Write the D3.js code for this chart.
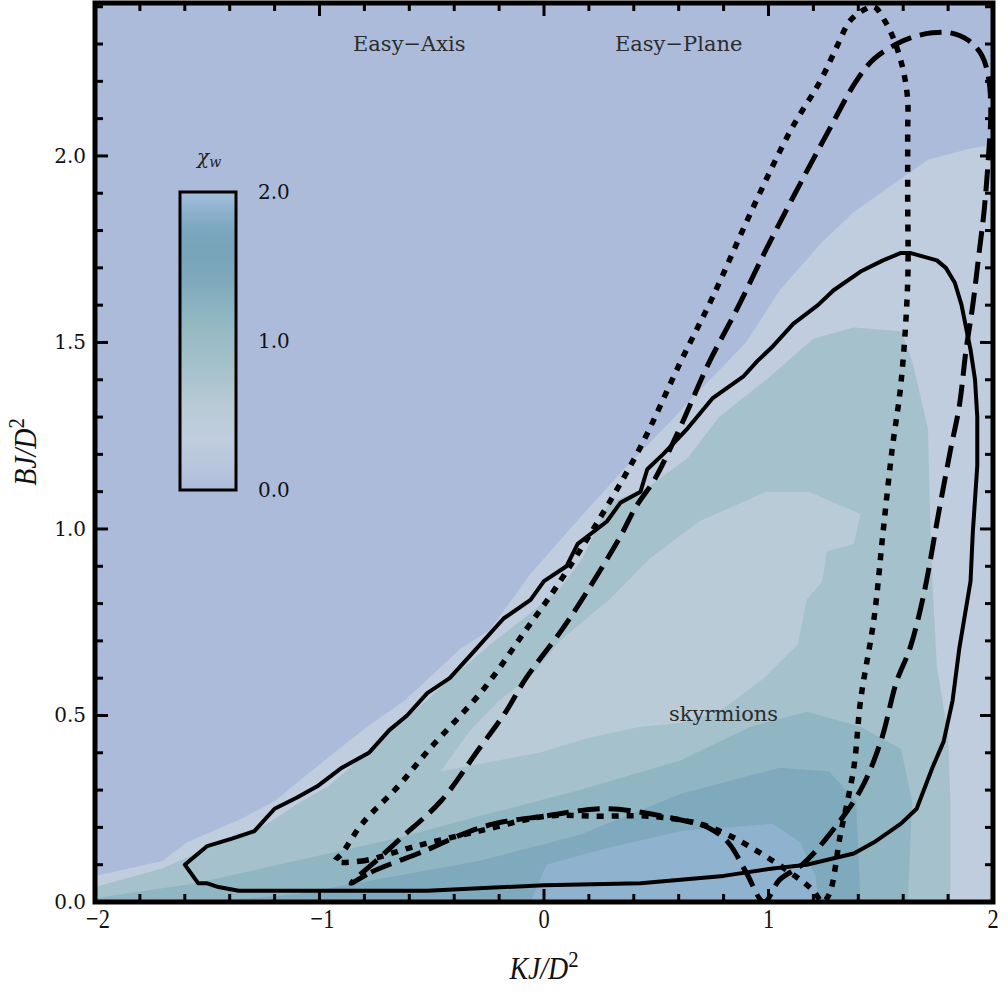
<!DOCTYPE html>
<html><head><meta charset="utf-8">
<script src="https://cdn.jsdelivr.net/npm/d3@7"></script>
<style>body{margin:0;background:#fff}svg{display:block}</style>
</head><body>
<svg id="chart" width="1008" height="999"></svg>
<script>
// ---- axis ticks ----
const xTicks = [-2, -1, 0, 1, 2];
const yTicks = [0, 0.5, 1.0, 1.5, 2.0];
const colorbarTicks = [0, 1, 2];

// ---- colour map for chi_w ----
const cmapValues = [0, 0.15, 0.35, 0.55, 0.8, 1.0, 1.2, 1.4, 1.6, 1.75, 1.88, 2.0];
const cmapColors = ["#adbbdb", "#b8c5dc", "#bfcdde", "#b9cbd6", "#a6c2cc", "#9bbcc5",
                    "#8db4c2", "#7fa9bc", "#77a4b9", "#7ba7bf", "#8fb2cf", "#a5c0dc"];

// ---- filled chi_w regions: [K, B] outlines with the level of each ----
const bandLevels = [0.35, 0.82, 0.55, 1.15, 1.4, 1.88];
const bandLow = [[-2,0],[-2.00,0.07],[-1.70,0.11],[-1.59,0.16],[-1.36,0.22],[-1.20,0.27],[-1.08,0.33],
  [-0.81,0.46],[-0.62,0.54],[-0.37,0.68],[-0.24,0.73],[-0.06,0.88],[0.16,1.03],[0.34,1.15],[0.55,1.28],
  [0.69,1.37],[0.90,1.50],[1.05,1.64],[1.24,1.77],[1.38,1.85],[1.71,1.99],[1.90,2.02],[2.00,2.03],[2.00,0]];
const bandTeal = [[-2,0],[-2.00,0.04],[-1.70,0.09],[-1.55,0.13],[-1.26,0.20],[-1.08,0.27],[-0.96,0.31],
  [-0.73,0.43],[-0.43,0.59],[-0.24,0.69],[-0.09,0.76],[0.07,0.84],[0.17,0.92],[0.29,1.07],[0.46,1.11],
  [0.64,1.19],[0.78,1.30],[0.99,1.40],[1.20,1.51],[1.38,1.54],[1.59,1.53],[1.64,1.45],[1.71,1.27],
  [1.72,1.03],[1.73,0.86],[1.75,0.63],[1.80,0.45],[1.81,0.27],[1.81,0]];
const bandInner = [[0.99,1.10],[1.18,1.10],[1.41,1.04],[1.38,0.96],[1.26,0.94],[1.24,0.86],[1.17,0.81],
  [1.13,0.69],[0.98,0.60],[0.78,0.51],[0.61,0.48],[0.43,0.47],[0.20,0.44],[-0.02,0.40],[-0.29,0.37],
  [-0.46,0.35],[-0.33,0.46],[-0.20,0.54],[-0.05,0.61],[0.07,0.70],[0.29,0.81],[0.47,0.92],[0.69,1.02]];
const bandMid = [[-2,0],[-2.00,0.01],[-1.55,0.05],[-1.11,0.11],[-0.66,0.17],[-0.29,0.23],[0.16,0.30],
  [0.61,0.38],[0.92,0.47],[1.17,0.51],[1.41,0.47],[1.59,0.41],[1.64,0.27],[1.62,0]];
const bandHigh = [[-1.53,0],[-1.11,0.02],[-0.66,0.07],[-0.29,0.11],[0.16,0.18],[0.61,0.29],[1.05,0.36],
  [1.27,0.35],[1.39,0.27],[1.41,0]];
const bandPeak = [[-0.06,0],[0.01,0.10],[0.25,0.14],[0.61,0.19],[1.02,0.21],[1.14,0.16],[1.21,0.07],[1.22,0]];
const bands = [bandLow, bandTeal, bandInner, bandMid, bandHigh, bandPeak];

// ---- phase boundaries (closed curves in K, B) ----
const solidCurve = [[-1.60,0.10],[-1.54,0.05],[-1.50,0.05],[-1.45,0.04],[-1.36,0.03],[-1.26,0.03],
  [-0.96,0.03],[-0.81,0.03],[-0.52,0.03],[0.00,0.045],[0.43,0.05],[0.80,0.07],[1.02,0.09],[1.17,0.10],
  [1.38,0.13],[1.47,0.16],[1.59,0.21],[1.66,0.25],[1.73,0.36],[1.78,0.43],[1.82,0.54],[1.85,0.68],
  [1.90,0.86],[1.91,0.99],[1.93,1.17],[1.93,1.30],[1.92,1.40],[1.90,1.48],[1.88,1.54],[1.86,1.60],
  [1.83,1.66],[1.79,1.70],[1.75,1.72],[1.69,1.73],[1.63,1.74],[1.59,1.74],[1.51,1.72],[1.41,1.69],
  [1.29,1.64],[1.22,1.60],[1.11,1.55],[1.02,1.49],[0.95,1.45],[0.89,1.41],[0.75,1.35],[0.64,1.27],
  [0.53,1.20],[0.46,1.16],[0.43,1.10],[0.34,1.07],[0.28,1.02],[0.15,0.96],[0.10,0.90],[0.00,0.86],
  [-0.06,0.81],[-0.18,0.76],[-0.33,0.66],[-0.42,0.60],[-0.52,0.56],[-0.61,0.50],[-0.69,0.46],
  [-0.78,0.40],[-0.90,0.36],[-1.01,0.31],[-1.10,0.28],[-1.20,0.25],[-1.29,0.19],[-1.39,0.17],
  [-1.50,0.15]];
const dashedCurve = [[-0.86,0.05],[-0.77,0.08],[-0.52,0.14],[-0.37,0.18],[-0.22,0.21],[0.00,0.23],
  [0.28,0.25],[0.61,0.22],[0.73,0.20],[0.82,0.16],[0.90,0.08],[0.98,0.00],[1.05,0.06],[1.15,0.10],
  [1.27,0.18],[1.41,0.30],[1.50,0.43],[1.57,0.59],[1.63,0.68],[1.69,0.82],[1.76,1.05],[1.81,1.21],
  [1.85,1.33],[1.88,1.48],[1.91,1.60],[1.94,1.75],[1.96,1.85],[1.98,2.00],[1.99,2.12],[1.98,2.21],
  [1.95,2.27],[1.89,2.31],[1.81,2.33],[1.73,2.33],[1.65,2.32],[1.57,2.30],[1.47,2.26],[1.39,2.20],
  [1.27,2.07],[1.11,1.89],[0.99,1.75],[0.86,1.59],[0.73,1.44],[0.62,1.29],[0.55,1.20],[0.49,1.13],
  [0.41,1.06],[0.34,0.98],[0.20,0.84],[0.08,0.73],[-0.08,0.60],[-0.17,0.51],[-0.29,0.41],
  [-0.46,0.27],[-0.64,0.17],[-0.73,0.12]];
const dottedCurve = [[-0.93,0.11],[-0.81,0.11],[-0.57,0.15],[-0.29,0.19],[0.01,0.23],[0.25,0.23],
  [0.47,0.23],[0.69,0.21],[0.82,0.18],[1.02,0.11],[1.14,0.06],[1.20,0.03],[1.24,0.00],[1.27,0.02],
  [1.32,0.18],[1.38,0.36],[1.41,0.54],[1.47,0.76],[1.51,0.99],[1.55,1.21],[1.59,1.39],[1.62,1.66],
  [1.62,1.88],[1.62,2.07],[1.62,2.15],[1.60,2.23],[1.56,2.31],[1.52,2.36],[1.47,2.40],[1.42,2.39],
  [1.36,2.36],[1.31,2.30],[1.23,2.20],[1.10,2.07],[0.93,1.86],[0.75,1.62],[0.61,1.45],[0.43,1.22],
  [0.25,1.03],[0.05,0.84],[-0.08,0.73],[-0.27,0.57],[-0.51,0.41],[-0.65,0.31],[-0.81,0.21],
  [-0.90,0.13]];

// ---- annotations placed in data coordinates ----
const annotationText = ["Easy\u2212Axis", "Easy\u2212Plane", "skyrmions"];
const annotationPos = [[-0.60, 2.28], [0.60, 2.28], [0.80, 0.485]];

// ---------------------------------------------------------------
const svg = d3.select("#chart");
const L = 95, R = 993, T = 3, B = 902;
const x = d3.scaleLinear().domain([-2, 2]).range([L, R]);
const y = d3.scaleLinear().domain([0, 2.41]).range([B, T]);
const cmap = d3.scaleLinear().domain(cmapValues).range(cmapColors).clamp(true);

svg.append("defs").append("clipPath").attr("id", "plotClip")
  .append("rect").attr("x", L).attr("y", T).attr("width", R - L).attr("height", B - T);

const plot = svg.append("g").attr("clip-path", "url(#plotClip)");
plot.append("rect").attr("x", L).attr("y", T).attr("width", R - L).attr("height", B - T)
  .attr("fill", cmap(0));

const area = d3.line().x(d => x(d[0])).y(d => y(d[1])).curve(d3.curveLinearClosed);
const smooth = d3.line().x(d => x(d[0])).y(d => y(d[1])).curve(d3.curveCatmullRomClosed.alpha(0.5));
plot.selectAll("path.band").data(bands).join("path").attr("class", "band")
  .attr("d", area).attr("fill", (d, i) => cmap(bandLevels[i])).attr("stroke", "none");

// phase boundaries
const curves = [
  {pts: solidCurve, dash: null, w: 4, gen: area},
  {pts: dashedCurve, dash: "22,9", w: 5, gen: smooth},
  {pts: dottedCurve, dash: "7,8", w: 5.5, gen: smooth}
];
plot.selectAll("path.curve").data(curves).join("path").attr("class", "curve")
  .attr("d", d => d.gen(d.pts)).attr("fill", "none").attr("stroke", "#000")
  .attr("stroke-width", d => d.w).attr("stroke-dasharray", d => d.dash)
  .attr("stroke-linejoin", "round");

// annotations
svg.selectAll("text.ann").data(annotationText).join("text").attr("class", "ann")
  .attr("x", (d, i) => x(annotationPos[i][0])).attr("y", (d, i) => y(annotationPos[i][1]))
  .attr("text-anchor", "middle").attr("font-family", "DejaVu Serif").attr("font-size", 21)
  .attr("fill", "#2b2b2b").text(d => d);

// frame and inward ticks
const ticksG = svg.append("g").attr("stroke", "#000").attr("stroke-width", 3);
const xMinor = d3.range(-2, 2.001, 0.2);
const yMinor = d3.range(0, 2.41, 0.1);
const isMajorX = v => Math.abs(v - Math.round(v)) < 1e-6;
const isMajorY = v => Math.abs(v * 2 - Math.round(v * 2)) < 1e-6;
xMinor.forEach(v => {
  const len = isMajorX(v) ? 13 : 8;
  ticksG.append("line").attr("x1", x(v)).attr("x2", x(v)).attr("y1", B).attr("y2", B - len);
  ticksG.append("line").attr("x1", x(v)).attr("x2", x(v)).attr("y1", T).attr("y2", T + len);
});
yMinor.forEach(v => {
  const len = isMajorY(v) ? 13 : 8;
  ticksG.append("line").attr("y1", y(v)).attr("y2", y(v)).attr("x1", L).attr("x2", L + len);
  ticksG.append("line").attr("y1", y(v)).attr("y2", y(v)).attr("x1", R).attr("x2", R - len);
});
svg.append("rect").attr("x", L).attr("y", T).attr("width", R - L).attr("height", B - T)
  .attr("fill", "none").attr("stroke", "#000").attr("stroke-width", 5);

// tick labels
const fmtX = d => (d < 0 ? "\u2212" : "") + Math.abs(d);
svg.selectAll("text.xt").data(xTicks).join("text").attr("class", "xt")
  .attr("transform", d => `translate(${x(d) + (d < 0 ? 3 : 0)},928) scale(0.8,1)`)
  .attr("text-anchor", "middle").attr("font-family", "Liberation Serif").attr("font-size", 28)
  .attr("fill", "#111").text(fmtX);
svg.selectAll("text.yt").data(yTicks).join("text").attr("class", "yt")
  .attr("x", 86).attr("y", d => y(d) + 7).attr("text-anchor", "end")
  .attr("font-family", "DejaVu Serif").attr("font-size", 20).attr("fill", "#111")
  .text(d => d.toFixed(1));

// axis titles
const xt = svg.append("text").attr("transform", "translate(544,979) scale(0.9,1)")
  .attr("text-anchor", "middle").attr("font-family", "Liberation Serif").attr("font-size", 31).attr("fill", "#111");
xt.append("tspan").attr("font-style", "italic").text("KJ/D");
xt.append("tspan").attr("font-size", 23).attr("dy", -12).text("2");
const yt = svg.append("text").attr("transform", "translate(36,452) rotate(-90) scale(0.9,1)")
  .attr("text-anchor", "middle").attr("font-family", "Liberation Serif").attr("font-size", 31).attr("fill", "#111");
yt.append("tspan").attr("font-style", "italic").text("BJ/D");
yt.append("tspan").attr("font-size", 23).attr("dy", -12).text("2");

// colour bar
const cbX = 180, cbW = 56;
const cbY = d3.scaleLinear().domain([0, 2]).range([490, 192]);
const grad = svg.select("defs").append("linearGradient").attr("id", "cbGrad")
  .attr("x1", 0).attr("y1", 1).attr("x2", 0).attr("y2", 0);
grad.selectAll("stop").data(cmapValues).join("stop")
  .attr("offset", d => d / 2).attr("stop-color", d => cmap(d));
svg.append("rect").attr("x", cbX).attr("y", cbY(2)).attr("width", cbW).attr("height", cbY(0) - cbY(2))
  .attr("fill", "url(#cbGrad)").attr("stroke", "#000").attr("stroke-width", 3);
svg.selectAll("text.cbt").data(colorbarTicks).join("text").attr("class", "cbt")
  .attr("x", 258).attr("y", d => cbY(d) + 7).attr("font-family", "DejaVu Serif")
  .attr("font-size", 20).attr("fill", "#111").text(d => d.toFixed(1));
const chi = svg.append("text").attr("x", 197).attr("y", 164).attr("font-family", "DejaVu Serif")
  .attr("font-style", "italic").attr("font-size", 20).attr("fill", "#222");
chi.append("tspan").text("\u03c7");
chi.append("tspan").attr("font-size", 14).attr("dy", 3).text("w");
</script>
</body></html>
